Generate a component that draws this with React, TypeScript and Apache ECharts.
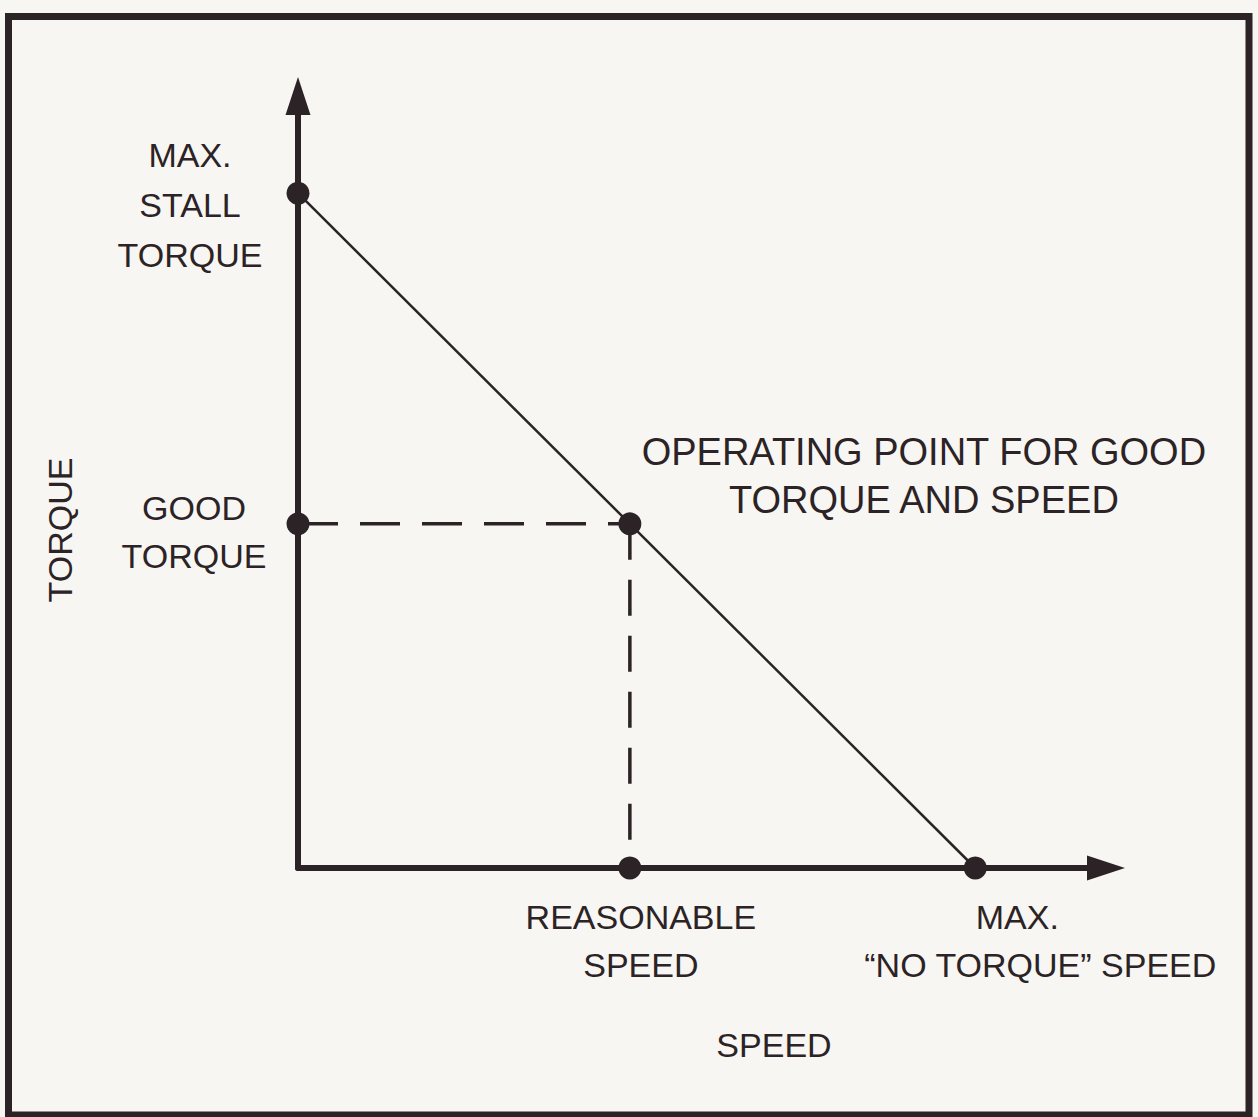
import React, { useEffect, useRef } from "react";
import * as echarts from "echarts";

// Operating points (abstract units: 100 = max value)
const pointNames = [
  "MAX. STALL TORQUE",
  "GOOD TORQUE",
  "OPERATING POINT",
  "REASONABLE SPEED",
  "MAX. NO TORQUE SPEED",
];
const pointSpeed = [0, 0, 49, 49, 100];
const pointTorque = [100, 51, 51, 0, 0];

// Torque–speed characteristic line
const curveSpeed = [0, 100];
const curveTorque = [100, 0];

// Dashed guide lines
const guideHSpeed = [0, 49];
const guideHTorque = [51, 51];
const guideVSpeed = [49, 49];
const guideVTorque = [51, 0];

const pointLabels = [
  "MAX.\nSTALL\nTORQUE",
  "GOOD\nTORQUE",
  "OPERATING POINT FOR GOOD\nTORQUE AND SPEED",
  "REASONABLE\nSPEED",
  "{a|MAX.}\n“NO TORQUE” SPEED",
];

const xAxisTitle = "SPEED";
const yAxisTitle = "TORQUE";

const FONT = "'Liberation Sans', Arial, Helvetica, sans-serif";
const INK = "#2b2325";
const BG = "#f8f6f2";

const labelOffsets: [number, number][] = [
  [-108, 12],
  [-104, 8],
  [294, -48],
  [11, 73],
  [65, 73],
];
const labelLineHeights = [50, 48, 48, 48, 48];
const labelFontSizes = [34, 34, 38, 34, 34];

export default function App() {
  const ref = useRef<HTMLDivElement>(null);

  useEffect(() => {
    if (!ref.current) return;
    const chart = echarts.init(ref.current, null, { renderer: "svg" });

    const zip = (a: number[], b: number[]) => a.map((v, i) => [v, b[i]]);

    const option: any = {
      animation: false,
      backgroundColor: BG,
      grid: { left: 298, right: 152, top: 96, bottom: 249, containLabel: false },
      xAxis: {
        type: "value",
        min: 0,
        max: 119.3,
        name: xAxisTitle,
        nameLocation: "middle",
        nameGap: 160,
        nameTextStyle: {
          fontFamily: FONT,
          fontSize: 34,
          color: INK,
          padding: [0, 0, 0, 144],
        },
        axisLine: {
          show: true,
          symbol: ["none", "triangle"],
          symbolSize: [25, 38],
          lineStyle: { color: INK, width: 6 },
        },
        axisTick: { show: false },
        axisLabel: { show: false },
        splitLine: { show: false },
      },
      yAxis: {
        type: "value",
        min: 0,
        max: 114.4,
        name: yAxisTitle,
        nameLocation: "middle",
        nameRotate: 90,
        nameGap: 221,
        nameTextStyle: {
          fontFamily: FONT,
          fontSize: 34,
          color: INK,
          padding: [0, 96, 0, 0],
        },
        axisLine: {
          show: true,
          onZero: false,
          symbol: ["none", "triangle"],
          symbolSize: [25, 38],
          lineStyle: { color: INK, width: 6 },
        },
        axisTick: { show: false },
        axisLabel: { show: false },
        splitLine: { show: false },
      },
      graphic: [
        {
          type: "rect",
          shape: { x: 8.5, y: 16.5, width: 1240.5, height: 1098.5 },
          style: { fill: "none", stroke: INK, lineWidth: 7 },
          silent: true,
          z: 100,
        },
      ],
      series: [
        {
          type: "line",
          data: zip(curveSpeed, curveTorque),
          showSymbol: false,
          lineStyle: { color: INK, width: 2.5 },
          z: 3,
          silent: true,
        },
        {
          type: "line",
          data: zip(guideHSpeed, guideHTorque),
          showSymbol: false,
          lineStyle: { color: INK, width: 3.5, type: [40, 22] },
          z: 2,
          silent: true,
        },
        {
          type: "line",
          data: zip(guideVSpeed, guideVTorque),
          showSymbol: false,
          lineStyle: { color: INK, width: 3.5, type: [36, 20] },
          z: 2,
          silent: true,
        },
        {
          type: "scatter",
          symbol: "circle",
          symbolSize: 23,
          itemStyle: { color: INK, opacity: 1 },
          z: 5,
          silent: true,
          data: pointNames.map((n, i) => ({
            name: n,
            value: [pointSpeed[i], pointTorque[i]],
            label: {
              show: true,
              position: "inside",
              offset: labelOffsets[i],
              formatter: pointLabels[i],
              align: "center",
              verticalAlign: "middle",
              fontFamily: FONT,
              fontSize: labelFontSizes[i],
              color: INK,
              opacity: 1,
              lineHeight: labelLineHeights[i],
              rich: {
                a: {
                  fontFamily: FONT,
                  fontSize: labelFontSizes[i],
                  color: INK,
                  lineHeight: labelLineHeights[i],
                  padding: [0, 46, 0, 0],
                },
              },
            },
          })),
        },
      ],
    };

    chart.setOption(option);
    return () => chart.dispose();
  }, []);

  return (
    <div
      ref={ref}
      style={{
        position: "absolute",
        left: 0,
        top: 0,
        width: 1258,
        height: 1117,
        background: BG,
      }}
    />
  );
}
